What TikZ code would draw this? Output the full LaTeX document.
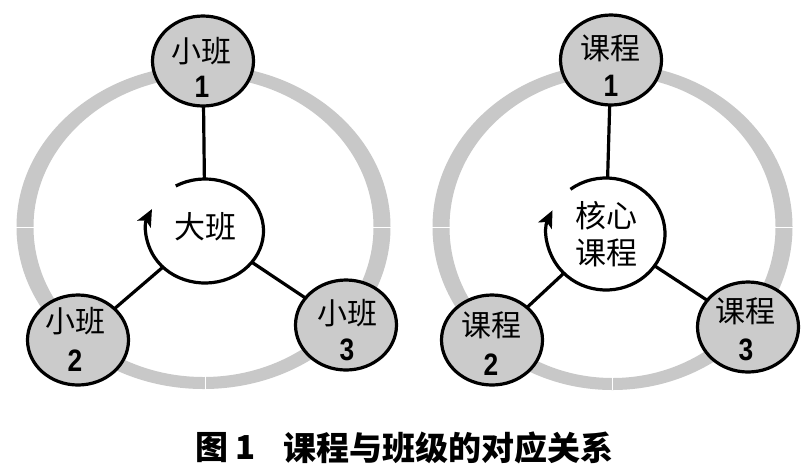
\documentclass[tikz,border=0pt]{standalone}
\usepackage{fontspec}
\newfontfamily\cjk{Noto Sans CJK SC}
\newfontfamily\digitfont{Liberation Sans}[FakeStretch=0.85]
\usetikzlibrary{shapes.geometric,arrows.meta}
\definecolor{ringgray}{RGB}{200,200,200}
\definecolor{nodegray}{RGB}{203,203,203}
\begin{document}
\begin{tikzpicture}[x=1pt,y=1pt,
  ringfill/.style={fill=ringgray, even odd rule},
  small/.style={ellipse, draw=black, line width=3.2pt, fill=nodegray, minimum width=101pt, minimum height=90pt, inner sep=0pt, outer sep=0pt},
  hub/.style={ellipse, fill=white, inner sep=0pt, outer sep=0pt},
  conn/.style={line width=3.2pt, black},
  cyc/.style={line width=3.2pt, black, -{Stealth[length=17pt,width=15pt,inset=4pt]}},
  lab/.style={font=\cjk\fontsize{30}{36}\selectfont, inner sep=0pt},
  hublab/.style={font=\cjk\fontsize{31}{37}\selectfont, inner sep=0pt, align=center},
  num/.style={font=\digitfont\bfseries\fontsize{31}{32}\selectfont, inner sep=0pt},
  captext/.style={font=\cjk\bfseries\fontsize{33}{36}\selectfont, inner sep=0pt, anchor=west},
  seam/.style={white, line width=0.8pt}]
\useasboundingbox (0,0) rectangle (810,-475);
\fill[white] (0,0) rectangle (810,-475);

% rings
\fill[ringfill] (203.5,-227) ellipse [x radius=187, y radius=162]
                (203.5,-227) ellipse [x radius=170, y radius=150];
\fill[ringfill] (612.5,-227) ellipse [x radius=180, y radius=163]
                (612.5,-227) ellipse [x radius=163, y radius=151];
\draw[seam] (15,-227) -- (35,-227);
\draw[seam] (372,-227) -- (392,-227);
\draw[seam] (205,-376) -- (205,-390);
\draw[seam] (431,-227) -- (451,-227);
\draw[seam] (774,-227) -- (794,-227);
\draw[seam] (612,-376) -- (612,-390);

% left diagram
\node[hub, minimum width=117pt, minimum height=104pt] (big) at (205,-231) {};
\node[small] (s1) at (203,-61) {};
\node[small] (s2) at (78,-340) {};
\node[small] (s3) at (346,-325) {};
\draw[conn] (s1) -- (big);
\draw[conn] (big) -- (s2);
\draw[conn] (big) -- (s3);
\draw[cyc] ([shift={(120:58.5 and 52)}]big.center)
  arc[start angle=120, end angle=-205, x radius=58.5, y radius=52];
\node[hublab] (bigt) at (205,-227) {大班};
\node[lab] (s1t) at (201,-51) {小班};
\node[num] (s1n) at (202,-87) {1};
\node[lab] (s2t) at (75,-321) {小班};
\node[num] (s2n) at (75,-361) {2};
\node[lab] (s3t) at (347,-313) {小班};
\node[num] (s3n) at (347,-350) {3};

% right diagram
\node[hub, minimum width=118pt, minimum height=112pt] (core) at (606,-234) {};
\node[small] (c1) at (611,-60) {};
\node[small] (c2) at (492,-340) {};
\node[small] (c3) at (748,-327) {};
\draw[conn] (c1) -- (core);
\draw[conn] (core) -- (c2);
\draw[conn] (core) -- (c3);
\draw[cyc] ([shift={(127:59 and 56)}]core.center)
  arc[start angle=127, end angle=-205, x radius=59, y radius=56];
\node[hublab] (coret) at (606,-234) {核心\\课程};
\node[lab] (c1t) at (610,-48) {课程};
\node[num] (c1n) at (611,-86) {1};
\node[lab] (c2t) at (491,-325) {课程};
\node[num] (c2n) at (491,-365) {2};
\node[lab] (c3t) at (745,-311) {课程};
\node[num] (c3n) at (746,-350) {3};

% caption
\node[captext] (capa) at (195,-448) {图 1};
\node[captext] (capb) at (283,-448) {课程与班级的对应关系};
\end{tikzpicture}
\end{document}
